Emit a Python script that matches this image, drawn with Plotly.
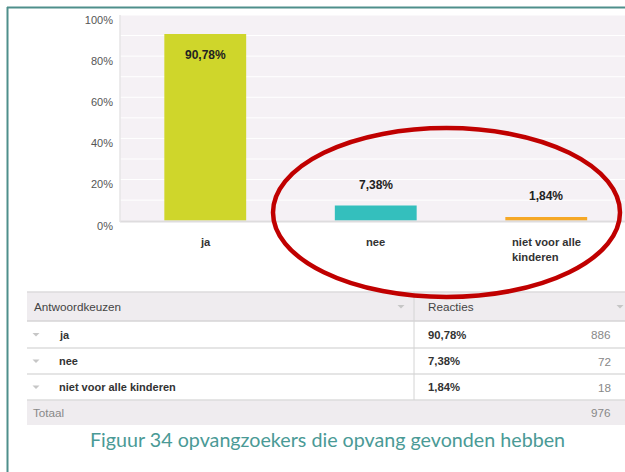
import plotly.graph_objects as go

W, H = 625, 472

# ---------------- data ----------------
categories = ["ja", "nee", "niet voor alle kinderen"]
tick_labels = ["ja", "nee", "niet voor alle<br>kinderen"]
percentages = [90.78, 7.38, 1.84]
counts = [886, 72, 18]
total = 976
bar_colors = ["#cfd62b", "#34bfbd", "#f5a826"]
y_ticks = [0, 20, 40, 60, 80, 100]
y_tick_text = ["0%", "20%", "40%", "60%", "80%", "100%"]
caption = "Figuur 34 opvangzoekers die opvang gevonden hebben"
table_header = ["Antwoordkeuzen", "Reacties"]
total_label = "Totaal"


def fmt_pct(v):
    return f"{v:.2f}%".replace(".", ",")


def px(x):
    return x / W


def py(y):
    return 1 - y / H


FONT = "Liberation Sans, Arial, sans-serif"

fig = go.Figure()
fig.add_trace(go.Bar(
    x=list(range(len(categories))),
    y=percentages,
    marker=dict(color=bar_colors, line=dict(width=0)),
    width=0.48,
    hoverinfo="skip",
))

# plot area geometry (pixels)
PL, PT, PB = 120, 15, 220.7
CAT_W = 170.5

fig.update_layout(
    width=W, height=H,
    margin=dict(l=0, r=0, t=0, b=0),
    template="none",
    paper_bgcolor="white",
    plot_bgcolor="#f5f1f5",
    showlegend=False,
    xaxis=dict(
        domain=[px(PL), 1],
        range=[-0.5, -0.5 + (W - PL) / CAT_W],
        showticklabels=False, showgrid=False, zeroline=False,
        ticks="", automargin=False, fixedrange=True,
    ),
    yaxis=dict(
        domain=[py(PB), py(PT)],
        range=[0, 100],
        tickvals=y_ticks, ticktext=y_tick_text,
        showgrid=False, zeroline=False, ticks="",
        tickfont=dict(family=FONT, size=11, color="#555555"),
        ticklabelshift=5,
        ticklabelstandoff=6,
        automargin=False, fixedrange=True,
    ),
)

shapes = []
ann = []


def label(x, y, text, size=11.7, color="#333333", xanchor="left", family=FONT):
    ann.append(dict(x=x, y=y, xref="paper", yref="paper", text=text, showarrow=False,
                    xanchor=xanchor, yanchor="middle",
                    font=dict(family=family, size=size, color=color)))


def triangle(xc, yc, color="#c6c6c6"):
    shapes.append(dict(type="path", xref="paper", yref="paper",
                       path=f"M {px(xc-3.5)},{py(yc-1.5)} L {px(xc+3.5)},{py(yc-1.5)} "
                            f"L {px(xc)},{py(yc+2)} Z",
                       fillcolor=color, line=dict(width=0)))


# white gridlines every 10%
for g in range(10, 101, 10):
    shapes.append(dict(type="line", xref="paper", yref="y", x0=px(PL), x1=1,
                       y0=g, y1=g, line=dict(color="white", width=1), layer="below"))
# axis lines
shapes.append(dict(type="line", xref="paper", yref="paper", x0=px(PL), x1=1,
                   y0=py(221.5), y1=py(221.5), line=dict(color="#dedcde", width=2)))
shapes.append(dict(type="line", xref="paper", yref="paper", x0=px(PL), x1=px(PL),
                   y0=py(PT), y1=py(222), line=dict(color="#e6e4e6", width=1.5)))

# bar value labels
for i, v in enumerate(percentages):
    ann.append(dict(x=i, y=v, xref="x", yref="y", text=f"<b>{fmt_pct(v)}</b>",
                    showarrow=False, yshift=(-21 if v > 50 else 21),
                    xanchor="center", yanchor="middle",
                    font=dict(family=FONT, size=12, color="#222222")))
# category labels
for i, t in enumerate(tick_labels):
    ann.append(dict(x=i, y=py(234), xref="x", yref="paper", text=f"<b>{t}</b>",
                    showarrow=False, xanchor="center", yanchor="top", align="left",
                    font=dict(family=FONT, size=11.2, color="#333333")))

# ---------------- table ----------------
TL, TR = 27, 625
DIV = 414
hdr_top, hdr_bot = 292, 321
row_bounds = [321, 348, 374, 400]
tot_bot = 425

shapes.append(dict(type="rect", xref="paper", yref="paper", x0=px(TL), x1=px(TR),
                   y0=py(hdr_bot), y1=py(hdr_top), fillcolor="#efecef",
                   line=dict(width=0), layer="below"))
shapes.append(dict(type="rect", xref="paper", yref="paper", x0=px(TL), x1=px(TR),
                   y0=py(tot_bot), y1=py(row_bounds[-1]), fillcolor="#efecef",
                   line=dict(width=0), layer="below"))
for yl, col in [(hdr_top, "#dddbdd"), (hdr_bot, "#d6d4d6")] + [(b, "#dddddd") for b in row_bounds[1:]]:
    shapes.append(dict(type="line", xref="paper", yref="paper", x0=px(TL), x1=px(TR),
                       y0=py(yl), y1=py(yl), line=dict(color=col, width=1.5)))
shapes.append(dict(type="line", xref="paper", yref="paper", x0=px(DIV), x1=px(DIV),
                   y0=py(hdr_top), y1=py(row_bounds[-1]), line=dict(color="#d4d4d4", width=1)))

hdr_y = (hdr_top + hdr_bot) / 2
label(px(32), py(hdr_y), table_header[0], color="#444444")
label(px(426), py(hdr_y), table_header[1], color="#444444")
for xt in (401, 620):
    triangle(xt, hdr_y)

for i, cat in enumerate(categories):
    yc = (row_bounds[i] + row_bounds[i + 1]) / 2
    triangle(36, yc)
    label(px(57), py(yc), f"<b>{cat}</b>", size=11)
    label(px(426), py(yc), f"<b>{fmt_pct(percentages[i])}</b>", size=11.3)
    label(px(613), py(yc), str(counts[i]), color="#888888", xanchor="right")

tot_y = (row_bounds[-1] + tot_bot) / 2
label(px(31), py(tot_y), total_label, color="#888888")
label(px(613), py(tot_y), str(total), color="#888888", xanchor="right")

# caption
label(px(327), py(439), caption, size=19.7, color="#4a9a96", xanchor="center",
      family="Lato, Open Sans, sans-serif")

# outer teal frame
shapes.append(dict(type="line", xref="paper", yref="paper", x0=px(7.5), x1=px(7.5),
                   y0=py(7), y1=0, line=dict(color="#4e8f8b", width=2)))
shapes.append(dict(type="line", xref="paper", yref="paper", x0=px(7), x1=1,
                   y0=py(7.5), y1=py(7.5), line=dict(color="#4e8f8b", width=2)))

# red highlight ellipse
shapes.append(dict(type="circle", xref="paper", yref="paper", x0=px(273), x1=px(620),
                   y0=py(297), y1=py(128), line=dict(color="#c00000", width=4.5)))

fig.update_layout(shapes=shapes, annotations=ann)
fig.write_html(
    "out.html",
    config={"displayModeBar": False, "staticPlot": True},
    post_script="document.body.style.margin='0';document.body.style.overflow='hidden';",
)
